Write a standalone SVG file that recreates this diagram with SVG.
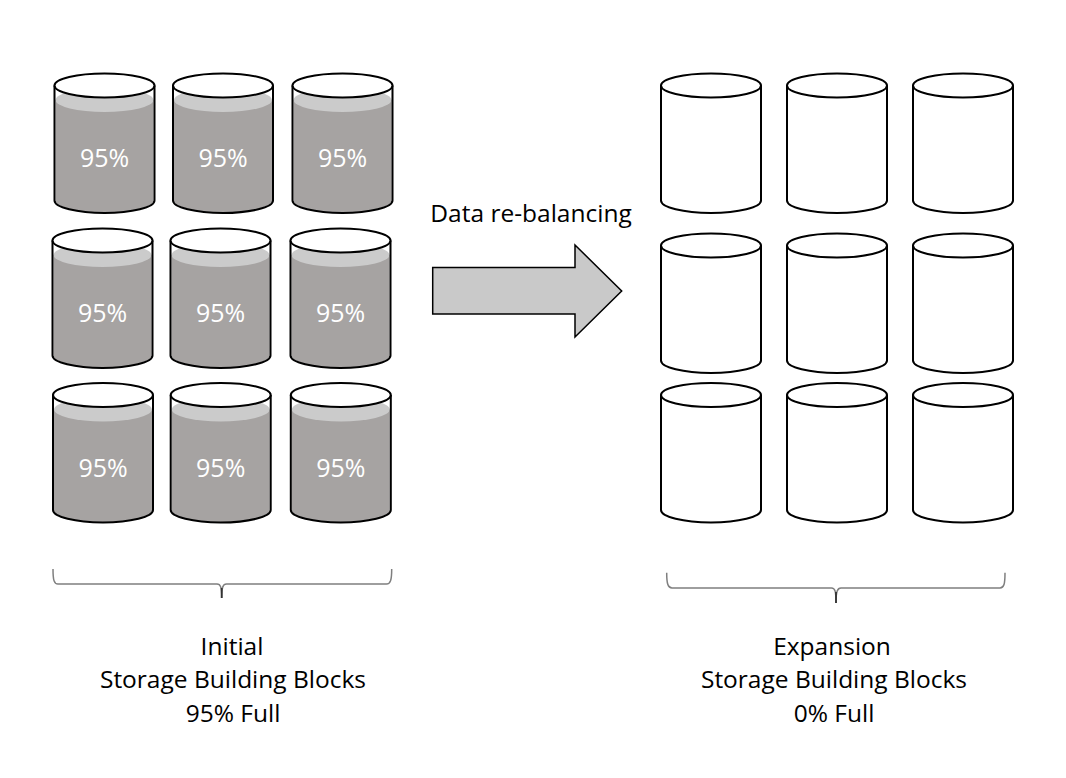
<svg xmlns="http://www.w3.org/2000/svg" width="1066" height="778" viewBox="0 0 1066 778">
<defs>
<style>
.txt{font-family:"Open Sans","Liberation Sans",sans-serif;font-size:24.5px;fill:#000;text-anchor:middle}
.pct{font-family:"Open Sans","Liberation Sans",sans-serif;font-size:25px;fill:#fff;text-anchor:middle}
.body{fill:#fff;stroke:none}
.dark{fill:#a6a3a2;stroke:none}
.light{fill:#cbcbcb;stroke:none}
.out{fill:none;stroke:#000;stroke-width:2}
.top{fill:#fff;stroke:#000;stroke-width:2}
.brace{fill:none;stroke:#7f7f7f;stroke-width:1.5}
</style>
<g id="cylFull">
<path class="body" d="M-50,0 L-50,115 A50,12.5 0 0 0 50,115 L50,0 Z"/>
<path class="dark" d="M-49,14.5 L-49,115 A49,12 0 0 0 49,115 L49,14.5 Z"/>
<ellipse class="light" cx="0" cy="14.5" rx="49" ry="12"/>
<path class="out" d="M-50,0 L-50,115 A50,12.5 0 0 0 50,115 L50,0"/>
<ellipse class="top" cx="0" cy="0" rx="50" ry="12"/>
<text class="pct" x="0" y="81.5">95%</text>
</g>
<g id="cylEmpty">
<path class="body" d="M-50,0 L-50,115 A50,12.5 0 0 0 50,115 L50,0 Z"/>
<path class="out" d="M-50,0 L-50,115 A50,12.5 0 0 0 50,115 L50,0"/>
<ellipse class="top" cx="0" cy="0" rx="50" ry="12"/>
</g>
</defs>
<rect width="1066" height="778" fill="#fff"/>
<g id="initial-blocks">
<use id="i11" href="#cylFull" x="104.5" y="85.5"/>
<use id="i12" href="#cylFull" x="223" y="85.5"/>
<use id="i13" href="#cylFull" x="342.5" y="85.5"/>
<use id="i21" href="#cylFull" x="102.5" y="240.5"/>
<use id="i22" href="#cylFull" x="220.5" y="240.5"/>
<use id="i23" href="#cylFull" x="340.5" y="240.5"/>
<use id="i31" href="#cylFull" x="103" y="395"/>
<use id="i32" href="#cylFull" x="220.7" y="395"/>
<use id="i33" href="#cylFull" x="340.8" y="395"/>
</g>
<g id="expansion-blocks">
<use id="e11" href="#cylEmpty" x="711" y="85.5"/>
<use id="e12" href="#cylEmpty" x="837" y="85.5"/>
<use id="e13" href="#cylEmpty" x="963" y="85.5"/>
<use id="e21" href="#cylEmpty" x="711" y="245.5"/>
<use id="e22" href="#cylEmpty" x="837" y="245.5"/>
<use id="e23" href="#cylEmpty" x="963" y="245.5"/>
<use id="e31" href="#cylEmpty" x="711" y="395"/>
<use id="e32" href="#cylEmpty" x="837" y="395"/>
<use id="e33" href="#cylEmpty" x="963" y="395"/>
</g>
<g id="connectors">
<polygon id="arrow" points="432.7,267.5 575,267.5 575,245 621.7,291 575,337 575,314 432.7,314" fill="#c9c9c9" stroke="#000" stroke-width="1.5" stroke-linejoin="miter"/>
<text class="txt" x="531" y="221.7">Data re-balancing</text>
</g>
<g id="brace-initial">
<path class="brace" d="M53,569 C53,580 54,584 58,584 L217,584 C220.5,584 221.7,587 221.7,598 C221.7,587 223,584 226.5,584 L386.5,584 C390.5,584 391.7,580 391.7,569"/>
<line x1="221.7" y1="588" x2="221.7" y2="598" stroke="#333" stroke-width="1.8"/>
</g>
<g id="brace-expansion">
<path class="brace" d="M666.7,572.7 C666.7,584 668,588 672,588 L831.5,588 C835,588 836,591 836,603 C836,591 837.5,588 841,588 L1000,588 C1004,588 1005,584 1005,572.7"/>
<line x1="836" y1="592" x2="836" y2="603" stroke="#333" stroke-width="1.8"/>
</g>
<g id="label-initial">
<text class="txt" x="232" y="655">Initial</text>
<text class="txt" x="233" y="688">Storage Building Blocks</text>
<text class="txt" x="233" y="721.5">95% Full</text>
</g>
<g id="label-expansion">
<text class="txt" x="832" y="655">Expansion</text>
<text class="txt" x="834" y="688">Storage Building Blocks</text>
<text class="txt" x="834" y="721.5">0% Full</text>
</g>
</svg>
